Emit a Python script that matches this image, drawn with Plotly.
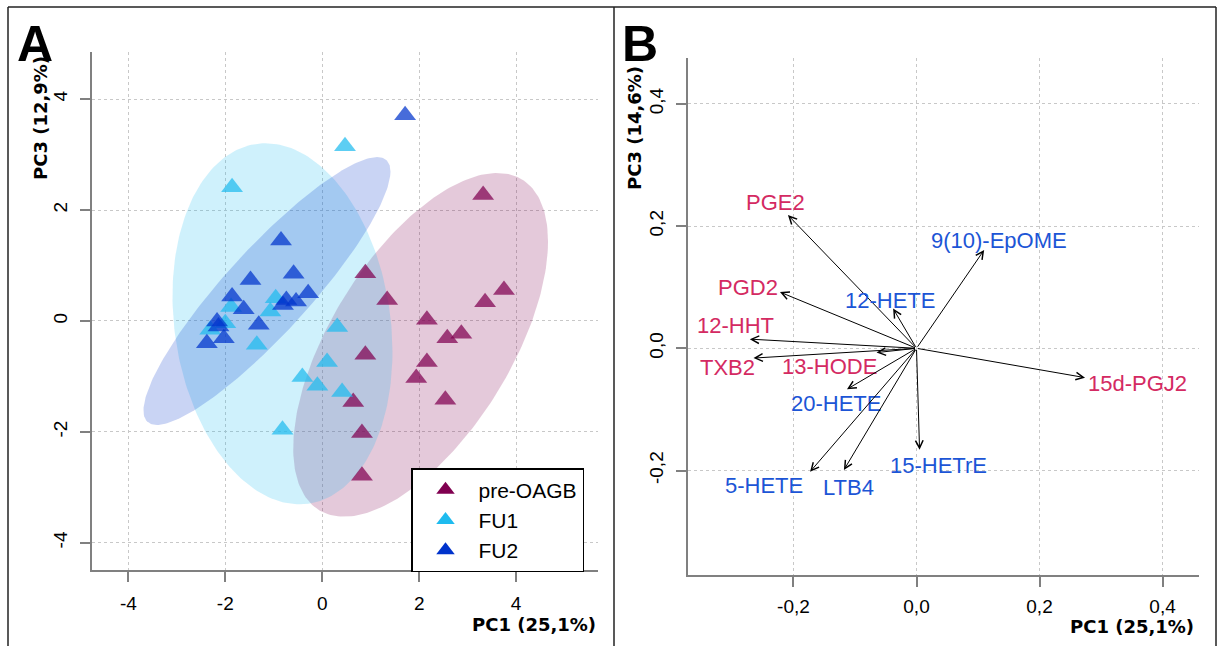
import numpy as np
import plotly.graph_objects as go

W, H = 1224, 646

# ---------------- Panel A: PCA scores (PC1 vs PC3) ----------------
group_names = ["pre-OAGB", "FU1", "FU2"]

pre_pc1 = [3.32, 3.75, 3.36, 0.89, 1.34, 2.16, 2.58, 2.87, 2.16, 0.89, 1.94, 2.54, 0.64, 0.82, 0.82]
pre_pc3 = [2.27, 0.56, 0.34, 0.86, 0.38, 0.02, -0.31, -0.23, -0.74, -0.61, -1.03, -1.42, -1.46, -2.02, -2.79]

fu1_pc1 = [0.47, -1.86, 0.31, 0.10, -0.41, -0.10, 0.41, -0.82, -0.96, -1.88, -1.07, -2.00, -2.31, -1.35]
fu1_pc3 = [3.15, 2.41, -0.11, -0.74, -1.01, -1.17, -1.28, -1.96, 0.41, 0.25, 0.17, -0.04, -0.16, -0.43]

fu2_pc1 = [1.71, -0.85, -0.59, -1.48, -1.86, -0.29, -0.74, -0.54, -0.81, -1.62, -1.31, -2.17, -2.14, -2.03, -2.38]
fu2_pc3 = [3.71, 1.45, 0.85, 0.74, 0.44, 0.50, 0.38, 0.35, 0.29, 0.21, -0.07, -0.01, -0.10, -0.31, -0.40]

# group ellipses: centre and covariance-like shape (sxx, syy, sxy)
ell_center_pc1 = [2.03, -0.82, -1.14]
ell_center_pc3 = [-0.43, -0.05, 0.54]
ell_sxx = [6.91, 5.15, 6.49]
ell_syy = [9.60, 10.60, 5.83]
ell_sxy = [4.90, -1.14, 5.49]

scores_ticks = [-4, -2, 0, 2, 4]
scores_ticktext = ["-4", "-2", "0", "2", "4"]

# ---------------- Panel B: loadings ----------------
mediators = ["PGE2", "PGD2", "12-HHT", "TXB2", "13-HODE", "12-HETE",
             "9(10)-EpOME", "15d-PGJ2", "20-HETE", "15-HETrE", "5-HETE", "LTB4"]
load_pc1 = [-0.209, -0.222, -0.271, -0.265, -0.065, -0.038, 0.110, 0.274, -0.113, 0.005, -0.173, -0.118]
load_pc3 = [0.218, 0.092, 0.015, -0.016, -0.007, 0.065, 0.161, -0.048, -0.067, -0.166, -0.202, -0.199]
mediator_class = ["pro", "pro", "pro", "pro", "pro", "hete",
                  "hete", "pro", "hete", "hete", "hete", "hete"]

load_ticks = [-0.2, 0.0, 0.2, 0.4]
load_ticktext = ["-0,2", "0,0", "0,2", "0,4"]

# ---------------- styling ----------------
group_colors = {"pre-OAGB": (128, 0, 80), "FU1": (30, 187, 239), "FU2": (0, 51, 204)}
class_colors = {"pro": "#D42A62", "hete": "#1C55D6"}
label_shift = {  # label centre relative to arrow tip (data units)
    "PGE2": (-0.021, 0.020), "PGD2": (-0.052, 0.008), "12-HHT": (-0.024, 0.023),
    "TXB2": (-0.043, -0.016), "13-HODE": (-0.076, -0.022), "12-HETE": (-0.005, 0.014),
    "9(10)-EpOME": (0.024, 0.016), "15d-PGJ2": (0.086, -0.009), "20-HETE": (-0.018, -0.023),
    "15-HETrE": (0.030, -0.025), "5-HETE": (-0.075, -0.023), "LTB4": (0.007, -0.028),
}


def rgba(c, a):
    return f"rgba({c[0]},{c[1]},{c[2]},{a})"


def px_x(p):
    return p / W


def px_y(p):
    return 1 - p / H


fig = go.Figure()

# ellipses (drawn first so points sit on top)
t = np.linspace(0, 2 * np.pi, 241)
for i, g in enumerate(group_names):
    S = np.array([[ell_sxx[i], ell_sxy[i]], [ell_sxy[i], ell_syy[i]]])
    L = np.linalg.cholesky(S)
    pts = L @ np.vstack([np.cos(t), np.sin(t)])
    fig.add_trace(go.Scatter(
        x=ell_center_pc1[i] + pts[0], y=ell_center_pc3[i] + pts[1],
        mode="lines", fill="toself", line=dict(width=0),
        fillcolor=rgba(group_colors[g], 0.21),
        hoverinfo="skip", showlegend=False, xaxis="x", yaxis="y"))

score_data = {"pre-OAGB": (pre_pc1, pre_pc3), "FU1": (fu1_pc1, fu1_pc3), "FU2": (fu2_pc1, fu2_pc3)}
for g in group_names:
    xs, ys = score_data[g]
    fig.add_trace(go.Scatter(
        x=xs, y=ys, mode="markers", name=g, showlegend=False,
        marker=dict(symbol="triangle-up", size=19, color=rgba(group_colors[g], 0.72),
                    line=dict(width=0)),
        xaxis="x", yaxis="y"))
    # solid legend key
    fig.add_trace(go.Scatter(
        x=[None], y=[None], mode="markers", name=g, legendgroup=g,
        marker=dict(symbol="triangle-up", size=19, color=rgba(group_colors[g], 1)),
        xaxis="x", yaxis="y"))

# loading arrows and labels
annotations = []
for m, lx, ly, c in zip(mediators, load_pc1, load_pc3, mediator_class):
    annotations.append(dict(
        x=lx, y=ly, ax=0, ay=0, xref="x2", yref="y2", axref="x2", ayref="y2",
        text="", showarrow=True, arrowhead=5, arrowsize=1.5, arrowwidth=1,
        arrowcolor="black", standoff=0, startstandoff=0))
    dx, dy = label_shift[m]
    annotations.append(dict(
        x=lx + dx, y=ly + dy, xref="x2", yref="y2", text=m, showarrow=False,
        xanchor="center", yanchor="middle",
        font=dict(family="Liberation Sans, Arial", size=22, color=class_colors[c])))

title_font = dict(family="DejaVu Sans, Verdana", size=18, color="black")
letter_font = dict(family="Liberation Sans, Arial", size=50, color="black")

annotations += [
    dict(text="<b>A</b>", x=px_x(35), y=px_y(44), xref="paper", yref="paper",
         showarrow=False, xanchor="center", yanchor="middle", font=letter_font),
    dict(text="<b>B</b>", x=px_x(640), y=px_y(44), xref="paper", yref="paper",
         showarrow=False, xanchor="center", yanchor="middle", font=letter_font),
    dict(text="<b>PC3 (12,9%)</b>", x=px_x(40), y=px_y(118), xref="paper", yref="paper",
         showarrow=False, textangle=-90, xanchor="center", yanchor="middle", font=title_font),
    dict(text="<b>PC1 (25,1%)</b>", x=px_x(598), y=px_y(624), xref="paper", yref="paper",
         showarrow=False, xanchor="right", yanchor="middle", font=title_font),
    dict(text="<b>PC3 (14,6%)</b>", x=px_x(634), y=px_y(128), xref="paper", yref="paper",
         showarrow=False, textangle=-90, xanchor="center", yanchor="middle", font=title_font),
    dict(text="<b>PC1 (25,1%)</b>", x=px_x(1196), y=px_y(626), xref="paper", yref="paper",
         showarrow=False, xanchor="right", yanchor="middle", font=title_font),
]

axis_style = dict(
    showline=True, linecolor="#808080", linewidth=1.5, mirror=False,
    ticks="outside", ticklen=10, tickwidth=1.5, tickcolor="#808080",
    showgrid=True, gridcolor="#c8c8c8", griddash="dot", gridwidth=1,
    zeroline=False, fixedrange=True,
    tickfont=dict(family="Liberation Sans, Arial", size=19, color="black"),
)

# figure frame and panel divider
frame = dict(type="line", xref="paper", yref="paper", line=dict(color="#222222", width=1.5))
shapes = [
    dict(frame, x0=px_x(8), x1=px_x(1216), y0=px_y(7), y1=px_y(7)),
    dict(frame, x0=px_x(8), x1=px_x(8), y0=px_y(7), y1=px_y(646)),
    dict(frame, x0=px_x(1216), x1=px_x(1216), y0=px_y(7), y1=px_y(646)),
    dict(frame, x0=px_x(614), x1=px_x(614), y0=px_y(7), y1=px_y(646)),
]

fig.update_layout(
    width=W, height=H, margin=dict(l=0, r=0, t=0, b=0),
    paper_bgcolor="white", plot_bgcolor="white",
    xaxis=dict(axis_style, domain=[px_x(92), px_x(598)], range=[-4.75, 5.69],
               tickvals=scores_ticks, ticktext=scores_ticktext, anchor="y",
               ticklabelstandoff=5),
    yaxis=dict(axis_style, domain=[px_y(570), px_y(52)], range=[-4.49, 4.85],
               tickvals=scores_ticks, ticktext=scores_ticktext, anchor="x",
               tickangle=-90, ticklabelstandoff=6),
    xaxis2=dict(axis_style, domain=[px_x(688), px_x(1199)], range=[-0.3715, 0.4593],
                tickvals=load_ticks, ticktext=load_ticktext, anchor="y2",
                ticklabelstandoff=3),
    yaxis2=dict(axis_style, domain=[px_y(575), px_y(58)], range=[-0.371, 0.4751],
                tickvals=load_ticks, ticktext=load_ticktext, anchor="x2",
                tickangle=-90, ticklabelstandoff=6),
    legend=dict(x=px_x(411), y=px_y(468), xanchor="left", yanchor="top",
                bordercolor="black", borderwidth=1.5, bgcolor="white",
                font=dict(family="Liberation Sans, Arial", size=21, color="black"),
                tracegroupgap=0, itemsizing="trace", itemwidth=56,
                entrywidth=198, entrywidthmode="pixels"),
    annotations=annotations,
    shapes=shapes,
    showlegend=True,
)

fig.write_html("out.html")
